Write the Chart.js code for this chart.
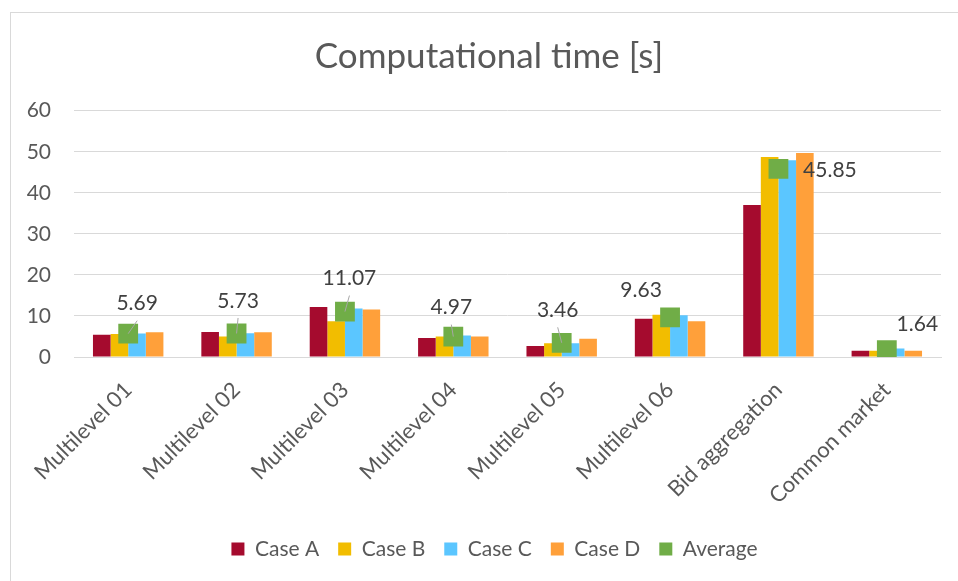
<!DOCTYPE html>
<html>
<head>
<meta charset="utf-8">
<script src="https://cdn.jsdelivr.net/npm/chart.js@4/dist/chart.umd.min.js"></script>
<style>
  html, body { margin: 0; padding: 0; background: #ffffff; }
  #wrap { position: relative; width: 958px; height: 581px; overflow: hidden; }
  #frame { position: absolute; left: 10px; top: 12px; right: -2px; bottom: -2px;
           border-left: 1px solid #d9d9d9; border-top: 1px solid #d9d9d9; }
  #chart { position: absolute; left: 0; top: 0; }
</style>
</head>
<body>
<div id="wrap">
  <div id="frame"></div>
  <canvas id="chart" width="958" height="581"></canvas>
</div>
<script>
// Computational time per benchmark, seconds
const categories = ['Multilevel 01', 'Multilevel 02', 'Multilevel 03', 'Multilevel 04',
                    'Multilevel 05', 'Multilevel 06', 'Bid aggregation', 'Common market'];
const caseA   = [5.45, 6.10, 12.20, 4.65, 2.70, 9.30, 37.05, 1.50];
const caseB   = [5.60, 5.00,  8.70, 5.00, 3.35, 10.30, 48.75, 1.50];
const caseC   = [5.70, 5.80, 11.80, 5.25, 3.35, 10.20, 47.90, 2.06];
const caseD   = [6.00, 6.00, 11.58, 4.98, 4.44, 8.72, 49.70, 1.50];
const average = [5.69, 5.73, 11.07, 4.97, 3.46, 9.63, 45.85, 1.64];
const yTicks  = [0, 10, 20, 30, 40, 50, 60];

// Placement of the average value labels relative to their marker (px)
const labelOffsets = [[9, -30], [1.5, -32.5], [4.5, -33], [-2, -29],
                      [-4, -32.5], [-29, -27], [51.5, 1.3], [30.5, -26.5]];
const leaderLines  = [true, true, true, true, true, false, false, false];

const FONT = 'Lato';
const TEXT = '#595959';

const averageLabels = {
  id: 'averageLabels',
  afterDatasetsDraw(chart) {
    const meta = chart.getDatasetMeta(4);
    const ctx = chart.ctx;
    ctx.save();
    meta.data.forEach((pt, i) => {
      const [dx, dy] = labelOffsets[i];
      const lx = pt.x + dx, ly = pt.y + dy;
      if (leaderLines[i]) {
        ctx.strokeStyle = '#a6a6a6';
        ctx.lineWidth = 1;
        ctx.beginPath();
        ctx.moveTo(lx, ly + 17);
        ctx.lineTo(pt.x, pt.y);
        ctx.stroke();
      }
      ctx.font = '21px ' + FONT;
      ctx.fillStyle = '#404040';
      ctx.textAlign = 'center';
      ctx.textBaseline = 'middle';
      ctx.fillText(average[i].toFixed(2), lx, ly);
    });
    ctx.restore();
  }
};

// Title and legend sit slightly right of the canvas centre
const headerShift = {
  id: 'headerShift',
  afterLayout(chart) {
    chart.titleBlock.left += 13.5; chart.titleBlock.right += 13.5;
    chart.legend.left += 19; chart.legend.right += 19;
  }
};

const barDefaults = { categoryPercentage: 0.65, barPercentage: 1.0, borderWidth: 0, order: 1 };

new Chart(document.getElementById('chart'), {
  type: 'bar',
  data: {
    labels: categories,
    datasets: [
      { label: 'Case A', data: caseA, backgroundColor: '#a50b2e', ...barDefaults },
      { label: 'Case B', data: caseB, backgroundColor: '#f2bd00', ...barDefaults },
      { label: 'Case C', data: caseC, backgroundColor: '#5bc6ff', ...barDefaults },
      { label: 'Case D', data: caseD, backgroundColor: '#ffa03a', ...barDefaults },
      { label: 'Average', data: average, type: 'line', showLine: false, order: 0,
        pointStyle: 'rect', pointRadius: 14, pointHoverRadius: 14,
        backgroundColor: '#70ad47', borderColor: '#70ad47', pointBorderWidth: 0, borderWidth: 0 }
    ]
  },
  options: {
    responsive: false,
    devicePixelRatio: 1,
    animation: false,
    layout: { padding: { left: 10, right: 17, top: 0, bottom: 11.5 } },
    plugins: {
      title: {
        display: true,
        text: 'Computational time [s]',
        color: TEXT,
        font: { family: FONT, size: 35, weight: 'normal' },
        padding: { top: 36, bottom: 32.7 }
      },
      legend: {
        position: 'bottom',
        labels: {
          color: TEXT,
          font: { family: FONT, size: 21 },
          boxWidth: 13, boxHeight: 13,
          padding: 19,
          sort: (a, b) => a.datasetIndex - b.datasetIndex
        }
      },
      tooltip: { enabled: false }
    },
    scales: {
      x: {
        grid: { display: false },
        border: { display: true, color: '#d9d9d9' },
        ticks: { color: TEXT, font: { family: FONT, size: 22 }, minRotation: 45, maxRotation: 45,
                 autoSkip: false, padding: 12, labelOffset: 0 },
        afterFit: (scale) => { scale.height = 162.5; }
      },
      y: {
        min: 0, max: 60,
        border: { display: false },
        grid: { color: '#d9d9d9', lineWidth: 1, drawTicks: false },
        afterBuildTicks: (scale) => { scale.ticks = yTicks.map(v => ({ value: v })); },
        ticks: { color: TEXT, font: { family: FONT, size: 21 }, padding: 23 },
        afterFit: (scale) => { scale.width = 64; }
      }
    }
  },
  plugins: [averageLabels, headerShift]
});
</script>
</body>
</html>
